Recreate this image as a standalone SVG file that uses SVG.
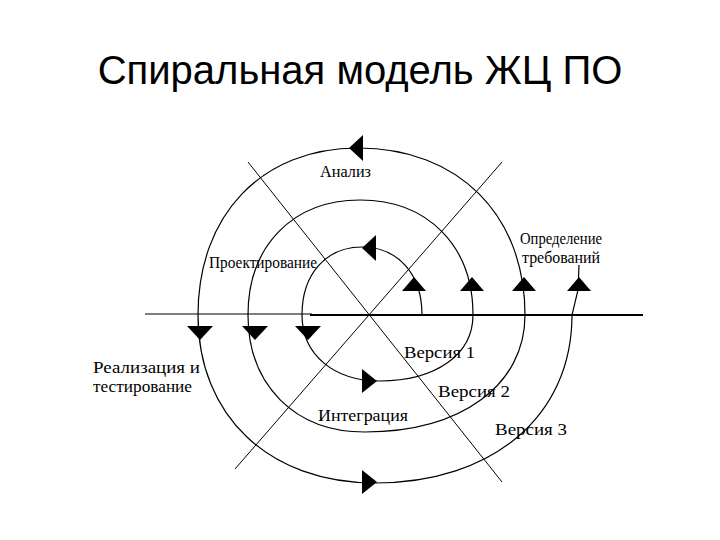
<svg xmlns="http://www.w3.org/2000/svg" xmlns:xlink="http://www.w3.org/1999/xlink" width="720" height="540" viewBox="0 0 720 540">
  <style>
    .title { font-family: "Liberation Sans", "Noto Sans", Arial, sans-serif; font-size: 40px; fill: #000; }
    .lbl { font-family: "Liberation Serif", "DejaVu Serif", serif; font-size: 17px; fill: #000; }
    .curve { fill: none; stroke: #000; stroke-width: 1.2; }
    .axis { fill: none; stroke: #000; stroke-width: 1.1; }
    .axisb { fill: none; stroke: #000; stroke-width: 2; }
    .diag { fill: none; stroke: #000; stroke-width: 1; }
    .head { fill: #000; stroke: none; }
  </style>
  <defs>
    <polygon id="up" class="head" points="0,-8 -12,6 12,6"/>
    <polygon id="down" class="head" points="-13,-7 13,-7 0,7"/>
    <polygon id="left" class="head" points="-7,0 7,-13 7,13"/>
    <polygon id="right" class="head" points="8,0 -7,-12 -7,12"/>
  </defs>
  <rect x="0" y="0" width="720" height="540" fill="#fff"/>

  <g id="title">
    <text class="title" x="360" y="84" text-anchor="middle">Спиральная модель ЖЦ ПО</text>
  </g>

  <g id="connectors">
    <!-- axes -->
    <line class="axis" x1="145" y1="314" x2="312" y2="314"/>
    <line class="axisb" x1="310" y1="315" x2="643" y2="315"/>
    <line class="diag" x1="248" y1="162" x2="502" y2="482"/>
    <line class="diag" x1="502" y1="162" x2="235" y2="469"/>
    <!-- spiral -->
    <path class="curve" d="M422,315 C422,274.2 398,247 362,247 C326,247 302,274.2 302,315"/>
    <path class="curve" d="M302,315 C302,354.6 333.8,381 380,381 C435.8,381 473,354.6 473,315"/>
    <path class="curve" d="M473,315 C473,246 427.8,200 360,200 C292.8,200 248,246 248,315"/>
    <path class="curve" d="M248,315 C248,385.2 294.8,432 365,432 C461,432 525,385.2 525,315"/>
    <path class="curve" d="M525,315 C525,214.8 458.2,148 358,148 C262,148 198,214.8 198,315"/>
    <path class="curve" d="M198,315 C198,415.8 268.8,483 375,483 C493.2,483 572,415.8 572,315 L578,290 L579,265"/>
    <!-- arrowheads -->
    <use xlink:href="#up" x="414" y="285"/>
    <use xlink:href="#up" x="472" y="285"/>
    <use xlink:href="#up" x="524" y="285"/>
    <use xlink:href="#up" x="579" y="285"/>
    <use xlink:href="#down" x="200" y="333"/>
    <use xlink:href="#down" x="255" y="333"/>
    <use xlink:href="#down" x="308" y="333"/>
    <use xlink:href="#left" x="356" y="148"/>
    <use xlink:href="#left" x="369" y="248"/>
    <use xlink:href="#right" x="369" y="381"/>
    <use xlink:href="#right" x="369" y="482"/>
  </g>

  <g id="analysis"><text class="lbl" x="320" y="177" textLength="51" lengthAdjust="spacingAndGlyphs">Анализ</text></g>
  <g id="design"><text class="lbl" x="209" y="268" textLength="108" lengthAdjust="spacingAndGlyphs">Проектирование</text></g>
  <g id="requirements">
    <text class="lbl" x="520" y="244" textLength="82" lengthAdjust="spacingAndGlyphs">Определение</text>
    <text class="lbl" x="522" y="263" textLength="78" lengthAdjust="spacingAndGlyphs">требований</text>
  </g>
  <g id="implementation">
    <text class="lbl" x="93" y="373" textLength="107" lengthAdjust="spacingAndGlyphs">Реализация и</text>
    <text class="lbl" x="93" y="392" textLength="99" lengthAdjust="spacingAndGlyphs">тестирование</text>
  </g>
  <g id="integration"><text class="lbl" x="318" y="421" textLength="90" lengthAdjust="spacingAndGlyphs">Интеграция</text></g>
  <g id="version1"><text class="lbl" x="404" y="358" textLength="71" lengthAdjust="spacingAndGlyphs">Версия 1</text></g>
  <g id="version2"><text class="lbl" x="438" y="397" textLength="72" lengthAdjust="spacingAndGlyphs">Версия 2</text></g>
  <g id="version3"><text class="lbl" x="495" y="435" textLength="72" lengthAdjust="spacingAndGlyphs">Версия 3</text></g>
</svg>
